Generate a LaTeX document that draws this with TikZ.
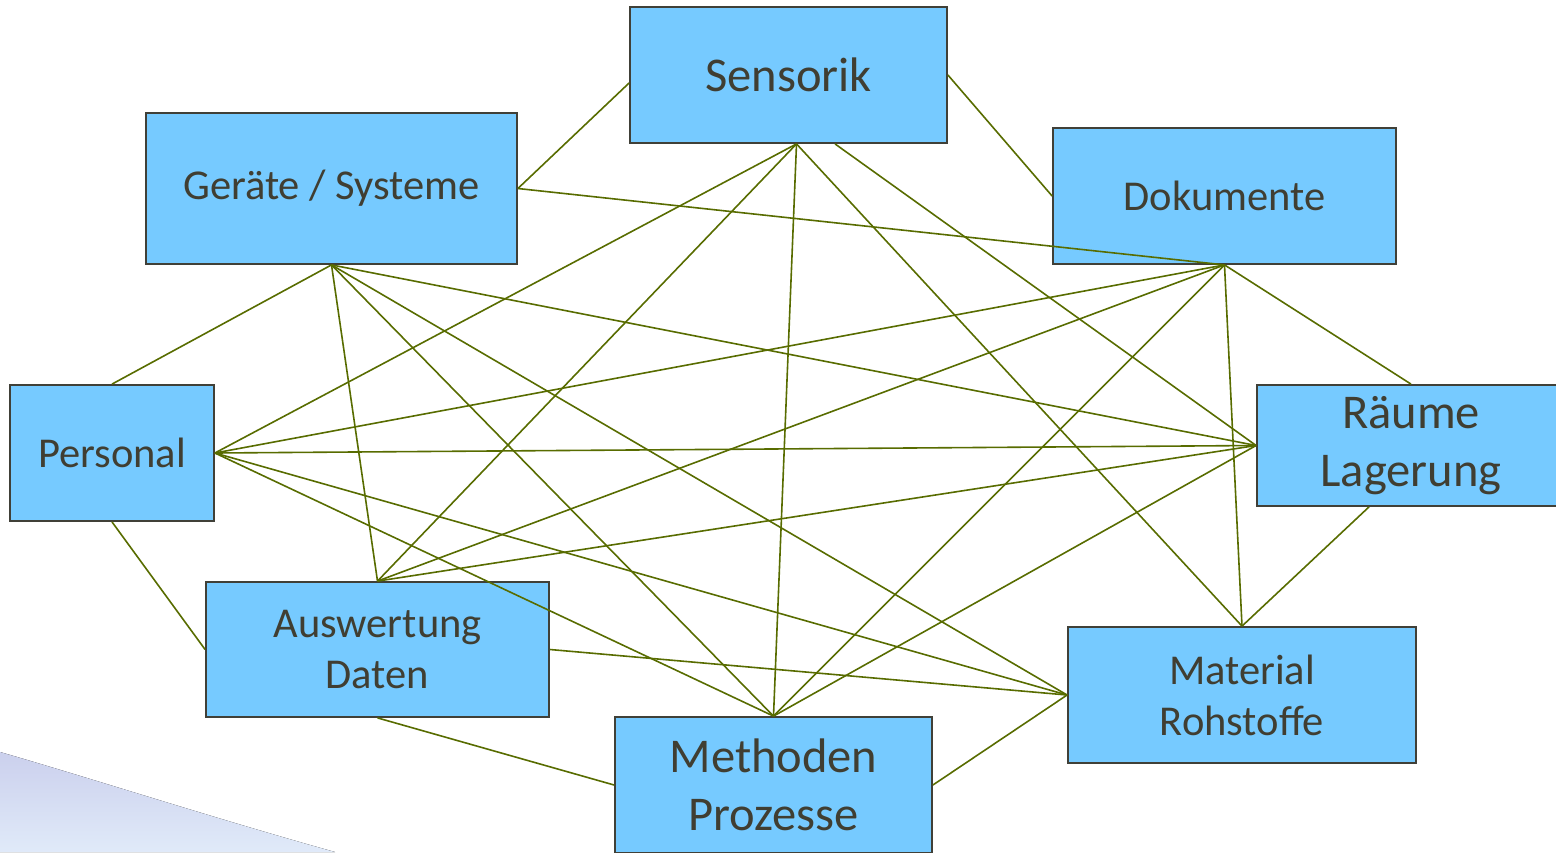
\documentclass[tikz,border=0pt]{standalone}
\usepackage{fontspec}
\setmainfont{Carlito}
\definecolor{boxfill}{RGB}{118,202,255}
\definecolor{boxline}{RGB}{64,64,56}
\definecolor{txt}{RGB}{64,62,50}
\definecolor{linkc}{RGB}{88,108,0}
\definecolor{swooshA}{RGB}{203,208,237}
\definecolor{swooshB}{RGB}{224,234,249}
\begin{document}
\begin{tikzpicture}[x=1pt,y=-1pt,
  box/.style={rectangle,draw=boxline,line width=1.8pt,fill=boxfill,text=txt,inner sep=0pt,align=center},
  small/.style={font=\fontsize{42.5}{51}\selectfont},
  big/.style={font=\fontsize{48.5}{58}\selectfont},
  link/.style={draw=linkc,line width=1.6pt}]
\useasboundingbox (0,0) rectangle (1556,852);
\clip (0,0) rectangle (1556,852);
% background swoosh
\fill[top color=swooshA,bottom color=swooshB] (0,752) .. controls (90,778) and (220,820) .. (335,852) -- (0,852) -- cycle;
% boxes
\node[box,big,minimum width=317pt,minimum height=136pt] (S) at (788.5,75) {Sensorik};
\node[box,small,minimum width=371pt,minimum height=151pt] (G) at (331.5,188.5) {Geräte / Systeme};
\node[box,small,minimum width=343pt,minimum height=136pt] (D) at (1224.5,196) {Dokumente};
\node[box,small,minimum width=204pt,minimum height=136pt] (P) at (112,453) {Personal};
\node[box,big,minimum width=308pt,minimum height=121pt] (R) at (1411,445.5) {Räume\\Lagerung};
\node[box,small,minimum width=343pt,minimum height=135pt] (A) at (377.5,649.5) {Auswertung\\Daten};
\node[box,small,minimum width=348pt,minimum height=136pt] (Mat) at (1242,695) {Material\\Rohstoffe};
\node[box,big,minimum width=317pt,minimum height=136pt] (Me) at (773.5,785) {Methoden\\Prozesse};
% connection points off the side centres
\coordinate (Sw) at ([yshift=-8pt]S.west);
\coordinate (Sb) at ([xshift=8pt]S.south);
\coordinate (Sb2) at ([xshift=46.5pt]S.south);
\coordinate (Rb) at ([xshift=-42pt]R.south);
% connectors
\draw[link] (Sw) -- (G.east);
\draw[link] (S.east) -- (D.west);
\draw[link] (Sb) -- (P.east);
\draw[link] (Sb) -- (A.north);
\draw[link] (Sb) -- (Me.north);
\draw[link] (Sb) -- (Mat.north);
\draw[link] (Sb2) -- (R.west);
\draw[link] (G.east) -- (D.south);
\draw[link] (G.south) -- (P.north);
\draw[link] (G.south) -- (A.north);
\draw[link] (G.south) -- (Me.north);
\draw[link] (G.south) -- (Mat.west);
\draw[link] (G.south) -- (R.west);
\draw[link] (D.south) -- (P.east);
\draw[link] (D.south) -- (A.north);
\draw[link] (D.south) -- (Me.north);
\draw[link] (D.south) -- (Mat.north);
\draw[link] (D.south) -- (R.north);
\draw[link] (P.east) -- (R.west);
\draw[link] (P.east) -- (Me.north);
\draw[link] (P.east) -- (Mat.west);
\draw[link] (P.south) -- (A.west);
\draw[link] (R.west) -- (A.north);
\draw[link] (R.west) -- (Me.north);
\draw[link] (Rb) -- (Mat.north);
\draw[link] (A.east) -- (Mat.west);
\draw[link] (A.south) -- (Me.west);
\draw[link] (Me.east) -- (Mat.west);
\end{tikzpicture}
\end{document}
